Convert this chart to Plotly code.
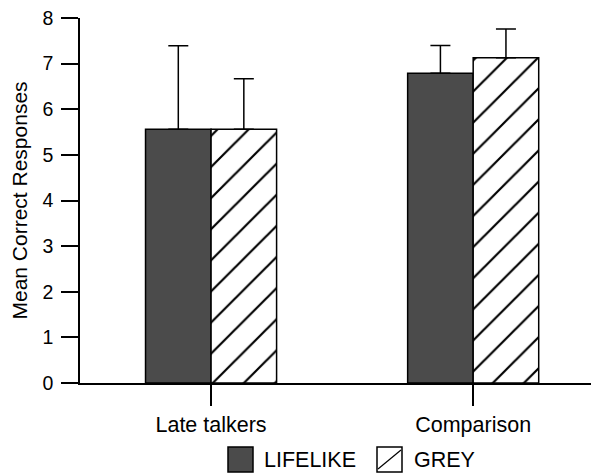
import plotly.graph_objects as go

categories = ["Late talkers", "Comparison"]
lifelike = [5.56, 6.79]
lifelike_err = [1.83, 0.61]
grey = [5.56, 7.13]
grey_err = [1.11, 0.63]
series_names = ["LIFELIKE", "GREY"]

FONT = "Liberation Sans, Arial, Helvetica, sans-serif"
DARK = "#4b4b4b"

fig = go.Figure()
fig.add_trace(go.Bar(
    x=categories, y=lifelike, name=series_names[0],
    marker=dict(color=DARK, line=dict(color="black", width=1.5)),
    error_y=dict(type="data", array=lifelike_err, arrayminus=[0, 0], symmetric=False,
                 color="black", thickness=1.5, width=10),
    showlegend=False,
))
fig.add_trace(go.Bar(
    x=categories, y=grey, name=series_names[1],
    marker=dict(color="white", line=dict(color="black", width=1.5),
                pattern=dict(shape="/", fgcolor="#000000", fgopacity=1, bgcolor="white",
                             fillmode="replace", size=22, solidity=0.1)),
    error_y=dict(type="data", array=grey_err, arrayminus=[0, 0], symmetric=False,
                 color="black", thickness=1.5, width=10),
    showlegend=False,
))

# page has an 8px body margin; figure sits at (8, 8)
W, H = 591, 467
ml, mr, mt, mb = 72, 0, 10, 92
pw = W - ml - mr
ph = H - mt - mb

def px_x(x):
    return (x - ml) / pw

def px_y(y):
    return (H - mb - y) / ph

shapes = []
annotations = []
# custom legend: LIFELIKE
shapes.append(dict(type="rect", xref="paper", yref="paper",
                   x0=px_x(220), x1=px_x(245), y0=px_y(464), y1=px_y(439),
                   fillcolor=DARK, line=dict(color="black", width=1.5)))
annotations.append(dict(xref="paper", yref="paper", x=px_x(254), y=px_y(452),
                        text=series_names[0], showarrow=False, xanchor="left", yanchor="middle",
                        font=dict(family=FONT, size=21.5, color="black")))
# GREY
shapes.append(dict(type="rect", xref="paper", yref="paper",
                   x0=px_x(369), x1=px_x(394), y0=px_y(464), y1=px_y(439),
                   fillcolor="white", line=dict(color="black", width=1.5)))
shapes.append(dict(type="line", xref="paper", yref="paper",
                   x0=px_x(370), x1=px_x(393), y0=px_y(461), y1=px_y(442),
                   line=dict(color="black", width=1.2)))
annotations.append(dict(xref="paper", yref="paper", x=px_x(404), y=px_y(452),
                        text=series_names[1], showarrow=False, xanchor="left", yanchor="middle",
                        font=dict(family=FONT, size=21.5, color="black")))

fig.update_layout(
    width=W, height=H,
    margin=dict(l=ml, r=mr, t=mt, b=mb, pad=0, autoexpand=False),
    paper_bgcolor="white", plot_bgcolor="white",
    barmode="group", bargap=0.5, bargroupgap=0,
    font=dict(family=FONT, size=19.5, color="black"),
    shapes=shapes, annotations=annotations,
    showlegend=False,
)
fig.update_xaxes(
    range=[-0.5, 1.48], showline=True, linecolor="black", linewidth=2,
    ticks="outside", ticklen=21, tickwidth=1.5, tickcolor="black",
    showgrid=False, zeroline=False, automargin=False,
    tickfont=dict(family=FONT, size=21.5, color="black"),
)
fig.update_yaxes(
    range=[0, 8], dtick=1, showline=True, linecolor="black", linewidth=1.5,
    ticks="outside", ticklen=17, tickwidth=1.5, tickcolor="black",
    showgrid=False, zeroline=False, ticklabelstandoff=4, ticklabeloverflow="allow",
    automargin=False,
    title=dict(text="Mean Correct Responses", font=dict(family=FONT, size=21, color="black"), standoff=24),
    tickfont=dict(family=FONT, size=19.5, color="black"),
)

fig.write_html("out.html")
